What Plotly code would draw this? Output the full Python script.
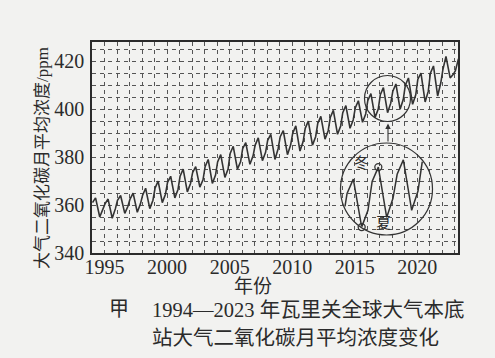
import pandas as pd
import plotly.graph_objects as go

# ---------------- data ----------------
years = list(range(1994, 2024))
co2_jan = [361, 360.5, 362, 362.5, 364, 367, 369.5, 372, 373.5, 376,
           378, 381.5, 383.5, 385, 387, 388.5, 390, 392, 394, 396.5,
           398.5, 400.5, 403.5, 406, 407.5, 410, 412.5, 415, 416.5, 416]
co2_apr = [363, 362.5, 364, 365, 367, 370, 372, 375, 376, 379,
           381, 384.5, 386, 388, 389.5, 391, 393, 395, 397, 399.5,
           401.5, 403.5, 406.5, 409, 410.5, 413, 415, 418, 422, 421]
co2_aug = [355, 354.5, 356.5, 357, 358.5, 361, 363, 365.5, 367.5, 369,
           371.5, 375, 377, 378.5, 379, 381, 382.5, 385, 387.5, 389.5,
           392, 394.5, 396.5, 398.5, 400, 402, 403, 405.5, 413, None]
co2_nov = [358, 358.5, 359.5, 360.5, 362, 364.5, 366.5, 369, 370.5, 372.5,
           375, 378, 380.5, 382, 383.5, 385, 386.5, 388.5, 391, 393,
           395.5, 398, 400, 402.5, 404, 406, 407.5, 411, 414.5, None]
month_keys = ["01-15", "04-15", "08-15", "11-15"]

y_ticks = [340, 360, 380, 400, 420]
x_ticks = ["1995", "2000", "2005", "2010", "2015", "2020"]

dates, vals = [], []
for i, yr in enumerate(years):
    for key, arr in zip(month_keys, (co2_jan, co2_apr, co2_aug, co2_nov)):
        if arr[i] is not None:
            dates.append(f"{yr}-{key}")
            vals.append(arr[i])

# ---------------- geometry ----------------
W, H = 495, 358
L, R, T, B = 92, 458, 42, 253
X0, X1 = pd.Timestamp("1994-01-01"), pd.Timestamp("2023-04-01")
Y0, Y1 = 340, 428

def to_px(d, v):
    t = pd.Timestamp(d)
    x = L + (t - X0) / (X1 - X0) * (R - L)
    y = B - (v - Y0) / (Y1 - Y0) * (B - T)
    return x, y

small_c, small_r = (387.5, 98.5), 23
big_c, big_r = (386.5, 189.0), 46
k = big_r / small_r

def magnify(p):
    return (big_c[0] + k * (p[0] - small_c[0]), big_c[1] + k * (p[1] - small_c[1]))

mag = [magnify(to_px(d, v)) for d, v in zip(dates, vals)]

def clip_seg(a, b, c, r):
    dx, dy = b[0] - a[0], b[1] - a[1]
    fx, fy = a[0] - c[0], a[1] - c[1]
    A = dx * dx + dy * dy
    Bq = 2 * (fx * dx + fy * dy)
    C = fx * fx + fy * fy - r * r
    disc = Bq * Bq - 4 * A * C
    if A == 0 or disc <= 0:
        return None
    s = disc ** 0.5
    t1, t2 = (-Bq - s) / (2 * A), (-Bq + s) / (2 * A)
    t1, t2 = max(t1, 0.0), min(t2, 1.0)
    if t1 >= t2:
        return None
    return ((a[0] + t1 * dx, a[1] + t1 * dy), (a[0] + t2 * dx, a[1] + t2 * dy))

ix, iy = [], []
last = None
for a, b in zip(mag[:-1], mag[1:]):
    seg = clip_seg(a, b, big_c, big_r - 1)
    if seg is None:
        continue
    p, q = seg
    if last is not None and abs(last[0] - p[0]) < 1e-6 and abs(last[1] - p[1]) < 1e-6:
        ix.append(q[0]); iy.append(q[1])
    else:
        if ix:
            ix.append(None); iy.append(None)
        ix += [p[0], q[0]]; iy += [p[1], q[1]]
    last = q

summer = magnify(to_px("2016-08-15", co2_aug[years.index(2016)]))
winter = magnify(to_px("2017-04-15", co2_apr[years.index(2017)]))

INK = "#2b2b2b"
GRID = "#555555"
BG = "#f2f2f0"
SERIF = "Liberation Serif, Noto Sans CJK SC"
CJK = "Liberation Serif, Noto Sans CJK SC"

fig = go.Figure()
fig.add_trace(go.Scatter(x=dates, y=vals, mode="lines",
                         line=dict(color="#333333", width=1.6),
                         hoverinfo="skip", showlegend=False))
fig.add_trace(go.Scatter(x=ix, y=iy, mode="lines", xaxis="x2", yaxis="y2",
                         line=dict(color="#333333", width=1.5),
                         connectgaps=False, hoverinfo="skip", showlegend=False))
fig.add_trace(go.Scatter(x=[summer[0], winter[0]], y=[summer[1], winter[1]],
                         mode="markers", xaxis="x2", yaxis="y2",
                         marker=dict(symbol="circle-open", size=7,
                                     color="#333333", line=dict(width=1.3)),
                         hoverinfo="skip", showlegend=False))

grid_common = dict(showgrid=True, gridcolor=GRID, gridwidth=1, griddash="4px,4px")

fig.update_layout(
    width=W, height=H, autosize=False,
    margin=dict(l=L, r=W - R, t=T, b=H - B, pad=0),
    paper_bgcolor=BG, plot_bgcolor=BG,
    xaxis=dict(type="date", range=[str(X0.date()), str(X1.date())],
               tickvals=[f"{t}-01-01" for t in x_ticks], ticktext=x_ticks,
               minor=dict(dtick="M12", tick0="1994-01-01", **grid_common),
               showline=True, linecolor=INK, linewidth=1.5, mirror=True,
               ticks="", zeroline=False, ticklabelstandoff=-5,
               tickfont=dict(family=SERIF, size=20, color=INK),
               **grid_common),
    yaxis=dict(range=[Y0, Y1], tickvals=y_ticks,
               minor=dict(dtick=5, tick0=340, **grid_common),
               showline=True, linecolor=INK, linewidth=1.5, mirror=True,
               ticks="", zeroline=False, ticklabelstandoff=2,
               tickfont=dict(family=SERIF, size=20, color=INK),
               **grid_common),
    xaxis2=dict(overlaying="x", range=[L, R], visible=False, fixedrange=True),
    yaxis2=dict(overlaying="y", range=[B, T], visible=False, fixedrange=True),
    showlegend=False,
)

# magnifier circles and arrow
fig.add_shape(type="circle", xref="x2", yref="y2",
              x0=small_c[0] - small_r, x1=small_c[0] + small_r,
              y0=small_c[1] - small_r, y1=small_c[1] + small_r,
              line=dict(color="#333333", width=1.2))
fig.add_shape(type="circle", xref="x2", yref="y2",
              x0=big_c[0] - big_r, x1=big_c[0] + big_r,
              y0=big_c[1] - big_r, y1=big_c[1] + big_r,
              line=dict(color="#333333", width=1.2))
fig.add_annotation(x=388, y=small_c[1] + small_r + 2, xref="x2", yref="y2",
                   ax=388, ay=big_c[1] - big_r, axref="x2", ayref="y2",
                   showarrow=True, arrowhead=2, arrowsize=1, arrowwidth=1.1,
                   arrowcolor="#333333", text="")
fig.add_annotation(x=361, y=163, xref="x2", yref="y2", text="冬", showarrow=False,
                   font=dict(family=CJK, size=15, color=INK))
fig.add_annotation(x=383, y=223, xref="x2", yref="y2", text="夏", showarrow=False,
                   font=dict(family=CJK, size=15, color=INK))

# texts
fig.add_annotation(x=(42 - L) / (R - L), y=(B - 158) / (B - T), xref="paper", yref="paper",
                   text="大气二氧化碳月平均浓度/ppm", textangle=-90, showarrow=False,
                   xanchor="center", yanchor="middle",
                   font=dict(family=CJK, size=17, color=INK))
fig.add_annotation(x=(253 - L) / (R - L), y=(B - 286) / (B - T), xref="paper", yref="paper",
                   text="年份", showarrow=False, xanchor="center", yanchor="middle",
                   font=dict(family=CJK, size=19, color=INK))
fig.add_annotation(x=(119 - L) / (R - L), y=(B - 309) / (B - T), xref="paper", yref="paper",
                   text="甲", showarrow=False, xanchor="center", yanchor="middle",
                   font=dict(family=CJK, size=20, color=INK))
fig.add_annotation(x=(150 - L) / (R - L), y=(B - 310) / (B - T), xref="paper", yref="paper",
                   text="1994—2023 年瓦里关全球大气本底", showarrow=False,
                   xanchor="left", yanchor="middle",
                   font=dict(family=CJK, size=20.5, color=INK))
fig.add_annotation(x=(150 - L) / (R - L), y=(B - 338) / (B - T), xref="paper", yref="paper",
                   text="站大气二氧化碳月平均浓度变化", showarrow=False,
                   xanchor="left", yanchor="middle",
                   font=dict(family=CJK, size=20.5, color=INK))

fig.write_html("out.html")
